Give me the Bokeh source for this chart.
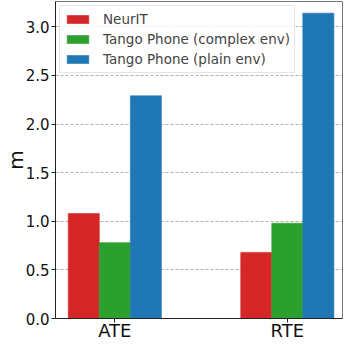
import numpy as np
from bokeh.plotting import figure
from bokeh.models import Range1d, FixedTicker, Legend, LegendItem
from bokeh.embed import file_html
from bokeh.resources import INLINE

categories = ["ATE", "RTE"]
series_names = ["NeurIT", "Tango Phone (complex env)", "Tango Phone (plain env)"]
neurit = [1.08, 0.68]
tango_complex = [0.78, 0.98]
tango_plain = [2.29, 3.14]
colors = ["#d62728", "#2ca02c", "#1f77b4"]
y_ticks = [0.0, 0.5, 1.0, 1.5, 2.0, 2.5, 3.0]

FONT = "DejaVu Sans"

p = figure(width=343, height=343, output_backend="svg", toolbar_location=None,
           x_range=Range1d(-0.344, 1.32), y_range=Range1d(0, 3.26),
           min_border_left=0, min_border_right=1, min_border_top=1, min_border_bottom=0)

bar_w = 0.18
offsets = [-bar_w, 0.0, bar_w]
xs = np.arange(len(categories))
renderers = []
for vals, off, col in zip([neurit, tango_complex, tango_plain], offsets, colors):
    r = p.vbar(x=xs + off, top=vals, width=bar_w, bottom=0, fill_color=col,
               line_color=col, line_alpha=0.6, fill_alpha=1.0)
    renderers.append(r)

legend = Legend(items=[LegendItem(label=n, renderers=[r]) for n, r in zip(series_names, renderers)],
                location="top_left", label_text_font=FONT, label_text_font_size="13.5px",
                glyph_width=27, glyph_height=10, label_height=18, spacing=2, padding=4,
                label_standoff=12, border_line_color="#cccccc", border_line_width=1,
                background_fill_alpha=0.8, margin=4)
p.add_layout(legend)

p.xaxis.axis_label = None
p.xaxis.ticker = FixedTicker(ticks=list(xs))
p.xaxis.major_label_overrides = {int(i): c for i, c in enumerate(categories)}
p.xaxis.major_label_text_font = FONT
p.xaxis.major_label_text_font_size = "18px"
p.xaxis.major_label_standoff = -3
p.xaxis.major_tick_out = 4
p.xaxis.major_tick_in = 0
p.xaxis.minor_tick_line_color = None
p.xaxis.axis_label_standoff = 0

p.yaxis.ticker = FixedTicker(ticks=y_ticks)
p.yaxis.major_label_overrides = {t: f"{t:.1f}" for t in y_ticks}
p.yaxis.major_label_text_font = FONT
p.yaxis.major_label_text_font_size = "15px"
p.yaxis.major_label_standoff = 2
p.yaxis.major_tick_out = 4
p.yaxis.major_tick_in = 0
p.yaxis.minor_tick_line_color = None
p.yaxis.axis_label = "m"
p.yaxis.axis_label_text_font = FONT
p.yaxis.axis_label_text_font_size = "20px"
p.yaxis.axis_label_text_font_style = "normal"
p.yaxis.axis_label_standoff = -5

for ax in (p.xaxis, p.yaxis):
    ax.axis_line_color = "#222222"
    ax.major_tick_line_color = "#222222"
    ax.major_label_text_color = "#111111"
    ax.axis_label_text_color = "#111111"

p.xgrid.grid_line_color = None
p.ygrid.grid_line_color = "#b0b0b0"
p.ygrid.grid_line_dash = "3 2"
p.ygrid.grid_line_width = 1
p.outline_line_color = "#777777"
p.outline_line_width = 1

open("out.html", "w").write(file_html(p, INLINE))
